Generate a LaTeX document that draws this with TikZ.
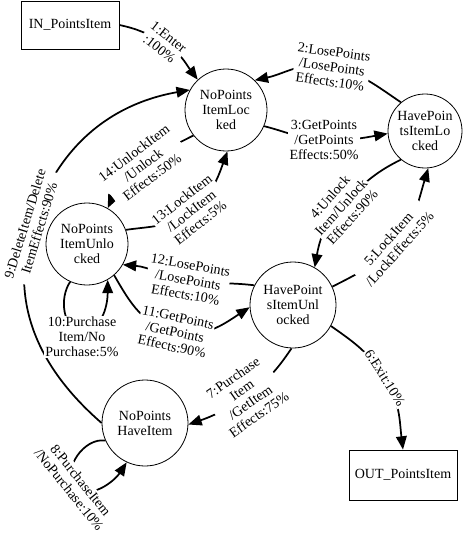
\documentclass[tikz,border=0pt]{standalone}
\usepackage{fontspec}
\setmainfont{Liberation Serif}
\usetikzlibrary{arrows.meta}
\begin{document}
\begin{tikzpicture}[x=0.75pt,y=0.75pt,
  font=\fontsize{10.5pt}{11.25pt}\selectfont,
  state/.style={circle,draw,line width=0.6pt,inner sep=0pt,align=center},
  ext/.style={rectangle,draw,line width=0.6pt,inner sep=0pt,align=center},
  edge/.style={line width=1.3pt,-{Triangle[length=10pt,width=8pt]}},
  lbl/.style={fill=white,inner sep=1pt,align=center}]
\useasboundingbox (0,0) rectangle (475,-535);
% states
\node[ext,minimum width=73.5pt,minimum height=36pt] (IN) at (70,-25) {IN\_PointsItem};
\node[ext,minimum width=81pt,minimum height=37.5pt] (OUT) at (403,-475) {OUT\_PointsItem};
\node[state,minimum size=61.5pt] (NPIL) at (226,-110) {NoPoints\\ItemLoc\\ked};
\node[state,minimum size=55.5pt] (HPIL) at (425,-131) {HavePoin\\tsItemLo\\cked};
\node[state,minimum size=61.5pt] (NPIUL) at (87,-244) {NoPoints\\ItemUnlo\\cked};
\node[state,minimum size=64.5pt] (HPIUL) at (293,-305) {HavePoint\\sItemUnl\\ocked};
\node[state,minimum size=64.5pt] (NPHI) at (145,-423) {NoPoints\\HaveItem};
% label anchors
\coordinate (c1) at (164,-43);
\coordinate (c2) at (332,-67);
\coordinate (c3) at (324,-140);
\coordinate (c4) at (341,-207);
\coordinate (c5) at (394,-244);
\coordinate (c6) at (385,-378);
\coordinate (c7) at (246,-396);
\coordinate (c8) at (75,-485);
\coordinate (c9) at (32,-226);
\coordinate (c10) at (82,-330);
\coordinate (c11) at (175,-332);
\coordinate (c12) at (188,-280);
\coordinate (c13) at (191,-211);
\coordinate (c14) at (143,-165);
% edges
\draw[edge] (IN.east) to[out=-12,in=150] (c1) to[out=-30,in=127] (NPIL.133);
\draw[edge] (HPIL.130) to[out=146,in=-12] (c2) to[out=168,in=12] (NPIL.46);
\draw[edge] (NPIL.-23) to[out=-14,in=178] (c3) to[out=-2,in=190] (HPIL.184);
\draw[edge] (HPIL.230) to[out=206,in=47] (c4) to[out=227,in=80] (HPIUL.60);
\draw[edge] (HPIUL.25) to[out=27,in=228] (c5) to[out=48,in=253] (HPIL.275);
\draw[edge] (HPIUL.-29) to[out=-35,in=122] (c6) to[out=-58,in=97] (OUT.north);
\draw[edge] (HPIUL.268) to[out=236,in=35] (c7) to[out=215,in=19] (NPHI.-2);
\draw[edge] (NPHI.204) to[out=170,in=129] (c8) to[out=-51,in=237] (NPHI.245);
\draw[edge] (NPHI.180) to[out=139,in=253] (c9) to[out=73,in=190] (NPIL.151);
\draw[edge] (NPIUL.246) to[out=235,in=180] (c10) to[out=0,in=270] (NPIUL.300);
\draw[edge] (NPIUL.-49) to[out=-60,in=168] (c11) to[out=-12,in=213] (HPIUL.183);
\draw[edge] (HPIUL.153) to[out=173,in=-10] (c12) to[out=170,in=-5] (NPIUL.-30);
\draw[edge] (NPIUL.20) to[out=8,in=218] (c13) to[out=38,in=250] (NPIL.272);
\draw[edge] (NPIL.218) to[out=207,in=37] (c14) to[out=217,in=65] (NPIUL.60);
% labels
\node[lbl,rotate=-38] (L1) at (c1) {1:Enter\\:100\%};
\node[lbl,rotate=-8] (L2) at (c2) {2:LosePoints\\/LosePoints\\Effects:10\%};
\node[lbl] (L3) at (c3) {3:GetPoints\\/GetPoints\\Effects:50\%};
\node[lbl,rotate=48] (L4) at (c4) {4:Unlock\\Item/Unlock\\Effects:90\%};
\node[lbl,rotate=48] (L5) at (c5) {5:LockItem\\/LockEffects:5\%};
\node[lbl,rotate=-58] (L6) at (c6) {6:Exit:10\%};
\node[lbl,rotate=35] (L7) at (c7) {7:Purchase\\Item\\/GetItem\\Effects:75\%};
\node[lbl,rotate=-51] (L8) at (c8) {8:PurchaseItem\\/NoPurchase:10\%};
\node[lbl,rotate=73] (L9) at (c9) {9:DeleteItem/Delete\\ItemEffects:90\%};
\node[lbl] (L10) at (82,-337) {10:Purchase\\Item/No\\Purchase:5\%};
\node[lbl,rotate=-12] (L11) at (c11) {11:GetPoints\\/GetPoints\\Effects:90\%};
\node[lbl,rotate=-10] (L12) at (c12) {12:LosePoints\\/LosePoints\\Effects:10\%};
\node[lbl,rotate=38] (L13) at (c13) {13:LockItem\\/LockItem\\Effects:5\%};
\node[lbl,rotate=37] (L14) at (c14) {14:UnlockItem\\/Unlock\\Effects:50\%};
\end{tikzpicture}
\end{document}
